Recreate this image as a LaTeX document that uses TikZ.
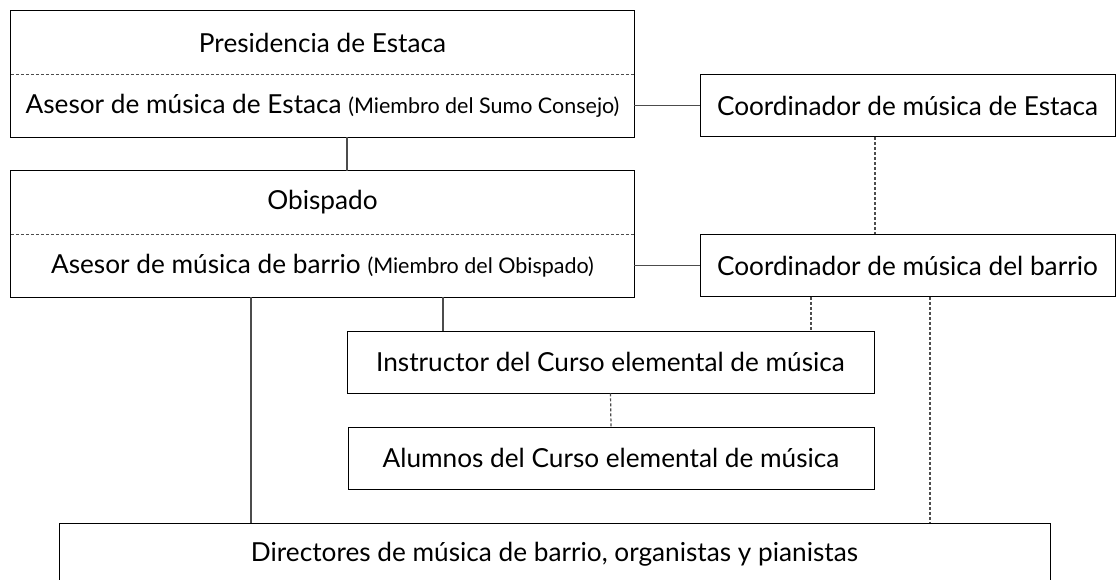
\documentclass[tikz,border=0pt]{standalone}
\usepackage{fontspec}
\setmainfont{Lato}
\usetikzlibrary{positioning}

\begin{document}
\begin{tikzpicture}[
    x=1pt, y=-1pt,
    fila/.style={minimum height=63pt, inner sep=0pt,
                 font=\fontsize{26.2}{30}\selectfont},
    caja/.style={draw, line width=0.9pt, minimum height=62pt, inner sep=0pt,
                 font=\fontsize{26.2}{30}\selectfont},
    marco/.style={draw, line width=0.9pt},
    sep/.style={dash pattern=on 3pt off 2pt, thin, black!70},
    linea/.style={line width=1.4pt, black!70},
    punteada/.style={line width=1.2pt, black!70, dash pattern=on 3pt off 2pt}
]
\useasboundingbox (0,0) rectangle (1116,580);

% Estaca
\node[fila, minimum width=623pt] (presid)  at (322.5, 42.5)  {Presidencia de Estaca};
\node[fila, minimum width=623pt] (asesorE) at (322.5, 105.5)
    {Asesor de música de Estaca {\fontsize{21.5}{25}\selectfont (Miembro del Sumo Consejo)}};
\draw[marco] (presid.north west) rectangle (asesorE.south east);
\draw[sep] (presid.south west) -- (presid.south east);

\node[caja, minimum width=415pt] (coordE) at (907.5, 105.5) {Coordinador de música de Estaca};

% Barrio
\node[fila, minimum width=623pt] (obisp)   at (322.5, 202.5) {Obispado};
\node[fila, minimum width=623pt] (asesorB) at (322.5, 265.5)
    {Asesor de música de barrio {\fontsize{21.5}{25}\selectfont (Miembro del Obispado)}};
\draw[marco] (obisp.north west) rectangle (asesorB.south east);
\draw[sep] (obisp.south west) -- (obisp.south east);

\node[caja, minimum width=415pt] (coordB) at (907.5, 265.5) {Coordinador de música del barrio};

% Curso elemental
\node[caja, minimum width=527pt] (instr)   at (610.5, 362) {Instructor del Curso elemental de música};
\node[caja, minimum width=526pt] (alumnos) at (611, 458)   {Alumnos del Curso elemental de música};

% Directores
\node[caja, minimum width=991pt] (direct) at (554.5, 554)
    {Directores de música de barrio, organistas y pianistas};

% Puntos de salida
\coordinate (sE)  at ([xshift=24.5]asesorE.south);
\coordinate (cE)  at ([xshift=-32.5]coordE.south);
\coordinate (sB1) at ([xshift=-71.5]asesorB.south);
\coordinate (sB2) at ([xshift=120.5]asesorB.south);
\coordinate (cB1) at ([xshift=-96.5]coordB.south);
\coordinate (cB2) at ([xshift=22.5]coordB.south);

% Lineas
\draw[linea] (asesorE.east) -- (coordE.west);
\draw[linea] (sE) -- (obisp.north -| sE);
\draw[punteada] (cE) -- (coordB.north -| cE);
\draw[linea] (asesorB.east) -- (coordB.west);
\draw[linea] (sB2) -- (instr.north -| sB2);
\draw[linea] (sB1) -- (direct.north -| sB1);
\draw[punteada] (cB1) -- (instr.north -| cB1);
\draw[punteada] (cB2) -- (direct.north -| cB2);
\draw[punteada] (instr.south) -- (alumnos.north);
\end{tikzpicture}
\end{document}
